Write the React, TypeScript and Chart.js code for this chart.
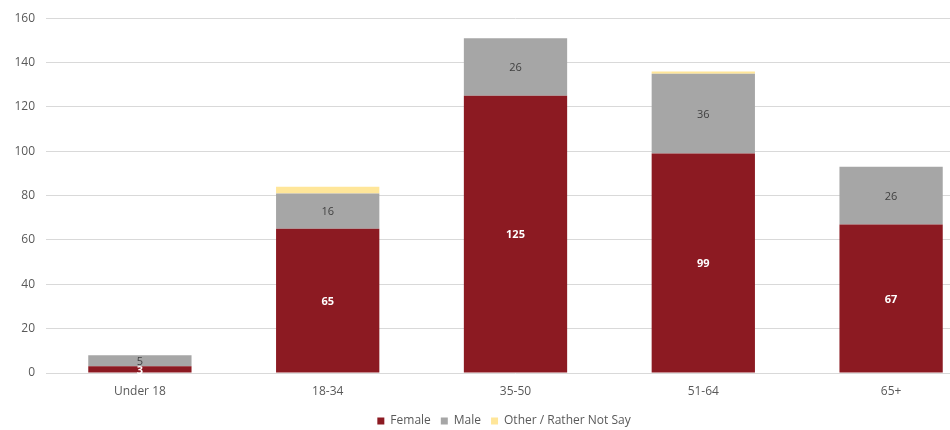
import React, { useEffect, useRef } from "react";
import { Chart, registerables } from "chart.js";

Chart.register(...registerables);

const categories = ["Under 18", "18-34", "35-50", "51-64", "65+"];
const female = [3, 65, 125, 99, 67];
const male = [5, 16, 26, 36, 26];
const other = [0, 3, 0, 1, 0];
const yTicks = [0, 20, 40, 60, 80, 100, 120, 140, 160];

const FONT = "'Open Sans', 'Liberation Sans', sans-serif";

// Writes each Female / Male value in the middle of its segment
const segmentLabels = {
  id: "segmentLabels",
  afterDatasetsDraw(chart: any) {
    const ctx = chart.ctx;
    ctx.save();
    ctx.textAlign = "center";
    ctx.textBaseline = "middle";
    chart.data.datasets.forEach((ds: any, di: number) => {
      if (!ds.showValues) return;
      const meta = chart.getDatasetMeta(di);
      meta.data.forEach((bar: any, i: number) => {
        const v = ds.data[i];
        if (!v) return;
        const { x, y, base } = bar.getProps(["x", "y", "base"], true);
        ctx.font = ds.valueFont;
        ctx.fillStyle = ds.valueColor;
        ctx.fillText(String(v), x, (y + base) / 2 + 1);
      });
    });
    ctx.restore();
  },
};

// Nudges the legend so it sits under the visible part of the page
const legendShift = {
  id: "legendShift",
  afterLayout(chart: any) {
    const lg = chart.legend;
    if (!lg) return;
    lg.left += 11.5;
    lg.right += 11.5;
  },
};

export default function App() {
  const ref = useRef<HTMLCanvasElement>(null);

  useEffect(() => {
    if (!ref.current) return;
    const chart = new Chart(ref.current, {
      type: "bar",
      data: {
        labels: categories,
        datasets: [
          {
            label: "Female",
            data: female,
            backgroundColor: "#8c1a22",
            showValues: true,
            valueColor: "#ffffff",
            valueFont: `bold 11px ${FONT}`,
          } as any,
          {
            label: "Male",
            data: male,
            backgroundColor: "#a6a6a6",
            showValues: true,
            valueColor: "#404040",
            valueFont: `11px ${FONT}`,
          } as any,
          {
            label: "Other / Rather Not Say",
            data: other,
            backgroundColor: "#ffe699",
          },
        ],
      },
      options: {
        animation: false,
        responsive: false,
        maintainAspectRatio: false,
        layout: { padding: { left: 0, right: 0, top: 17, bottom: 0 } },
        datasets: {
          bar: { barPercentage: 0.55, categoryPercentage: 1 },
        },
        scales: {
          x: {
            stacked: true,
            grid: { display: false, drawTicks: false },
            border: { display: false },
            afterFit(scale: any) {
              scale.height = 32;
            },
            ticks: {
              color: "#595959",
              font: { family: FONT, size: 12 },
              padding: 11,
            },
          },
          y: {
            stacked: true,
            min: 0,
            max: 160,
            afterBuildTicks(scale: any) {
              scale.ticks = yTicks.map((v) => ({ value: v }));
            },
            afterFit(scale: any) {
              scale.width = 46;
            },
            grid: { color: "#d9d9d9", drawTicks: false },
            border: { display: false },
            ticks: {
              color: "#595959",
              font: { family: FONT, size: 12 },
              padding: 11,
            },
          },
        },
        plugins: {
          legend: {
            position: "bottom",
            labels: {
              usePointStyle: true,
              pointStyle: "rect",
              boxWidth: 7,
              boxHeight: 7,
              color: "#595959",
              font: { family: FONT, size: 12 },
              padding: 10,
            },
          },
          tooltip: { enabled: false },
        },
      },
      plugins: [segmentLabels, legendShift],
    });
    return () => chart.destroy();
  }, []);

  return (
    <div
      style={{
        position: "fixed",
        left: 0,
        top: 0,
        width: 950,
        height: 430,
        overflow: "hidden",
        background: "#ffffff",
      }}
    >
      <canvas ref={ref} width={985} height={437} style={{ display: "block" }} />
    </div>
  );
}
